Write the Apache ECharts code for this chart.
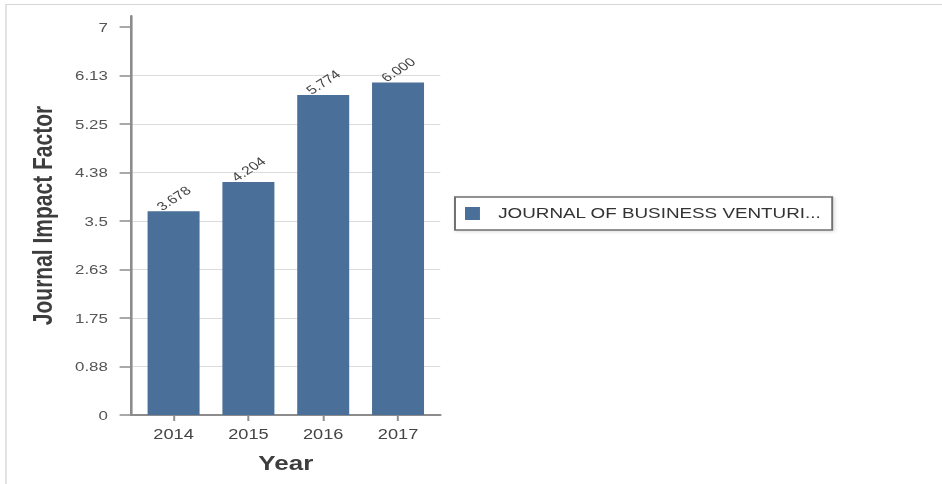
<!DOCTYPE html>
<html><head><meta charset="utf-8">
<script src="https://cdn.jsdelivr.net/npm/echarts@6/dist/echarts.min.js"></script>
<style>
html,body{margin:0;padding:0;background:#fff;overflow:hidden;width:942px;height:484px;}
#frame{position:absolute;left:5px;top:4px;width:937px;height:480px;border-top:1px solid #d6d6d6;border-left:2px solid #e2e2e2;box-sizing:border-box;z-index:5;pointer-events:none;}
#c{position:absolute;left:0;top:0;width:725px;height:484px;transform:scaleX(1.3);transform-origin:0 0;}
</style></head><body>
<div id="c"></div><div id="frame"></div>
<script>
const categories = ['2014', '2015', '2016', '2017'];
const impactFactors = [3.678, 4.204, 5.774, 6.000];
const seriesName = 'JOURNAL OF BUSINESS VENTURI...';
const yTickValues = [0, 0.875, 1.75, 2.625, 3.5, 4.375, 5.25, 6.125, 7];
const yTickLabels = ['0', '0.88', '1.75', '2.63', '3.5', '4.38', '5.25', '6.13', '7'];
const xTickValues = [0, 1, 2, 3];

const FONT = '"Liberation Sans", Arial, sans-serif';
const AXIS = '#8c8c8c';

function yLabel(v) {
  let best = 0, d = Infinity;
  yTickValues.forEach((t, i) => { const e = Math.abs(t - v); if (e < d) { d = e; best = i; } });
  return yTickLabels[best];
}

const chart = echarts.init(document.getElementById('c'), null, { renderer: 'svg' });
chart.setOption({
  animation: false,
  backgroundColor: '#ffffff',
  grid: { left: 101, top: 16, width: 237.7, height: 399, containLabel: false, outerBoundsMode: 'none' },
  legend: {
    data: [seriesName],
    left: 350, top: 197,
    orient: 'horizontal',
    padding: [9, 8, 9, 7.7],
    itemWidth: 11.5, itemHeight: 13,
    icon: 'rect',
    borderColor: '#6f6f6f', borderWidth: 1.5,
    backgroundColor: '#ffffff',
    shadowColor: 'rgba(0,0,0,0.15)', shadowBlur: 3, shadowOffsetX: 1, shadowOffsetY: 1,
    selectedMode: false,
    textStyle: { fontSize: 14.5, color: '#333', fontFamily: FONT, padding: [0, 0, 0, 9] }
  },
  xAxis: {
    type: 'value',
    min: -0.565, max: 3.565,
    axisLine: { show: true, onZero: false, lineStyle: { color: AXIS, width: 2 } },
    axisTick: { show: true, customValues: xTickValues, length: 6, lineStyle: { color: AXIS, width: 1.5 } },
    axisLabel: { customValues: xTickValues, formatter: v => categories[Math.round(v)], fontSize: 14, color: '#444', margin: 12, fontFamily: FONT },
    splitLine: { show: false },
    name: 'Year', nameLocation: 'middle', nameGap: 38,
    nameTextStyle: { fontSize: 20, fontWeight: 'bold', color: '#3d3d3d', fontFamily: FONT }
  },
  yAxis: {
    type: 'value',
    min: 0, max: 7.2,
    axisLine: { show: true, onZero: false, lineStyle: { color: AXIS, width: 2 } },
    axisTick: { show: true, customValues: yTickValues, length: 9, lineStyle: { color: AXIS, width: 1.5 } },
    axisLabel: { customValues: yTickValues, formatter: yLabel, margin: 18, fontSize: 13, color: '#555', fontFamily: FONT },
    splitLine: { show: true, showMinLine: false, showMaxLine: false, lineStyle: { color: '#dcdcdc', width: 1 } },
    name: 'Journal Impact Factor', nameLocation: 'middle', nameGap: 58, nameRotate: 90,
    nameTextStyle: { fontSize: 21, fontWeight: 'bold', color: '#3d3d3d', fontFamily: FONT }
  },
  series: [{
    name: seriesName,
    type: 'bar',
    barWidth: 40,
    data: categories.map((c, i) => [i, impactFactors[i]]),
    itemStyle: { color: '#4a6f98' },
    label: {
      show: true, position: 'top', distance: 13, rotate: 40,
      align: 'center', verticalAlign: 'middle',
      formatter: p => p.value[1].toFixed(3),
      fontSize: 12, color: '#444', fontFamily: FONT
    }
  }]
});
</script>
</body></html>
